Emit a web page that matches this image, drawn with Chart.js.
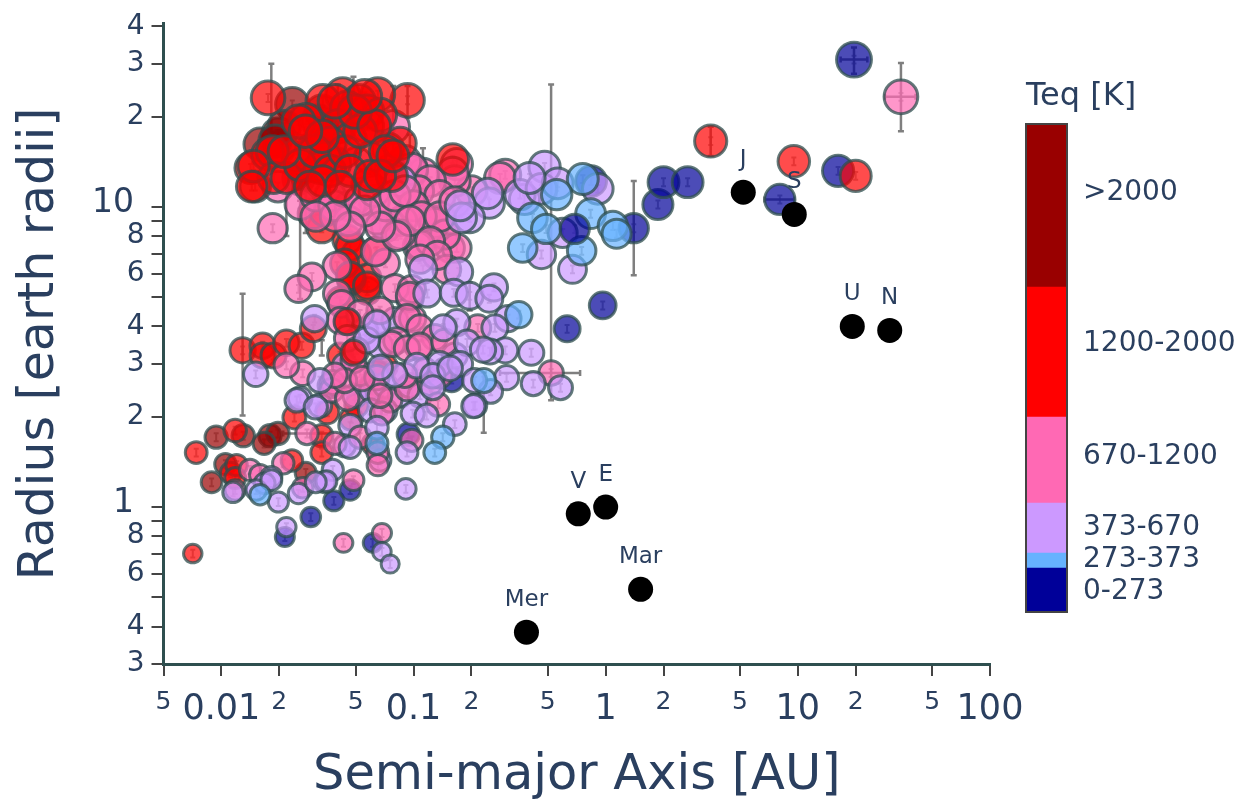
<!DOCTYPE html>
<html><head><meta charset="utf-8">
<style>html,body{margin:0;padding:0;background:#fff;overflow:hidden}canvas{position:absolute;top:0}</style>
<script src="https://cdn.jsdelivr.net/npm/chart.js@4"></script></head>
<body>
<canvas id="main" width="1241" height="799" style="left:0;width:1241px;height:799px"></canvas>
<canvas id="bar" width="241" height="799" style="left:1000px;width:241px;height:799px"></canvas>
<script>
const xTickValues=[0.005,0.01,0.02,0.05,0.1,0.2,0.5,1,2,5,10,20,50,100];
const xTickLabels=['5','0.01','2','5','0.1','2','5','1','2','5','10','2','5','100'];
const xLargeTicks=[0.01,0.1,1,10,100];
const yTickValues=[0.3,0.4,0.5,0.6,0.7,0.8,0.9,1,2,3,4,5,6,7,8,9,10,20,30,40];
const yTickLabels=['3','4','','6','','8','','1','2','3','4','','6','','8','','10','2','3','4'];
const yLargeTicks=[1,10];

const navyBack=[[19.6,31],[1.87,10.2],[2,12.1],[2.67,12.1],[1.4,8.5],[0.965,4.7],[0.63,3.93],[8.06,10.6],[16.2,13.2],[0.158,2.66],[0.094,1.75],[0.0385,1.05],[0.0468,1.14],[0.0292,0.927],[0.0214,0.795],[0.0613,0.76],[0.84,12.2]];
const navyFront=[[0.69,8.45]];
const darkPlanets=[[0.0234,22],[0.0197,17.5],[0.0159,16.2],[0.0202,15.9],[0.0252,12.5],[0.0333,20.8],[0.03,15.7],[0.0346,17.2],[0.0094,1.71],[0.013,1.73],[0.0179,1.73],[0.0197,1.76],[0.0167,1.63],[0.0105,1.39],[0.0089,1.21],[0.0275,1.3],[0.0252,12.4],[0.0212,18.5],[0.019,16.6],[0.0415,18.6],[0.0319,19.3]];
const redBack=[[0.0129,3.33],[0.0164,3.45],[0.0164,3.2],[0.0187,3.2],[0.0218,3.53],[0.0262,3.45],[0.0301,3.93],[0.0574,5.26],[0.0475,5.68],[0.0415,3.2],[0.0594,2.5],[0.0356,2.07],[0.024,1.99],[0.0474,1.97],[0.0505,2.18],[0.0333,1.73],[0.0333,1.52],[0.0074,1.52],[0.0118,1.8],[0.0112,1.3],[0.012,1.38],[0.0233,1.43],[0.0071,0.7],[0.0452,7.8],[0.0505,7],[0.0574,5.8],[0.0645,7.15],[0.0475,5.8],[0.0333,8.5],[0.03,9.5],[0.0118,1.25],[0.0616,1.62],[0.0452,4.15],[0.0345,9.7],[0.0468,7.4],[0.0438,6.5],[0.0415,4.88],[0.0468,5.9],[0.0574,5.47],[0.0645,2.8],[0.071,2.95]];
const redFront=[[0.0175,23.1],[0.0931,22.7],[3.52,16.6],[9.53,14.2],[20,12.7],[0.16,14.4],[0.0428,23.7],[0.0337,22.5],[0.0652,23.7],[0.0519,22.5],[0.0452,21.4],[0.0574,20.8],[0.0404,18.6],[0.0574,18.6],[0.067,20.3],[0.0468,16.8],[0.0738,15.6],[0.0852,16.3],[0.0594,14.6],[0.0391,14],[0.0368,16.3],[0.0249,15],[0.0276,19.5],[0.0252,19.3],[0.0142,13.5],[0.015,11.7],[0.0174,15],[0.0184,15.3],[0.0187,12.5],[0.0218,12.5],[0.0346,14.6],[0.0574,11.9],[0.0772,12.7],[0.0326,13.5],[0.0487,3.27],[0.0452,4.15],[0.0257,13.8],[0.0306,15.3],[0.0368,13.2],[0.0438,15.3],[0.0527,17.9],[0.0495,20.8],[0.0625,18.6],[0.0712,15.3],[0.0468,13.2],[0.0594,12.7],[0.0335,17.2],[0.0212,15.3],[0.0274,17.9],[0.067,12.7],[0.039,22.5],[0.0558,23.4],[0.0781,14.8],[0.0335,12.2],[0.0415,11.7],[0.0289,11.7],[0.0147,13.7],[0.0144,11.7]];
const pinkBack=[[0.3,12.8],[0.282,12.5],[0.2,11.3],[0.168,13.9],[0.164,12.2],[0.16,13],[0.112,12.9],[0.098,13.2],[0.0988,10.1],[0.09,11.3],[0.0903,14.2],[0.0756,13.2],[0.098,13.4],[0.0197,11.7],[0.122,12.2],[0.106,11.3],[0.137,10.9]];
const pinkPlanets=[[0.126,9],[0.142,8.1],[0.155,7.3],[0.168,7.3],[0.105,7.4],[0.149,6.2],[0.0957,4.97],[0.099,4.25],[0.216,3.96],[0.0185,8.5],[0.1,10.1],[0.129,8.85],[0.146,8.1],[0.108,7.5],[0.087,9],[0.0852,8.1],[0.0625,10.5],[0.0368,10.9],[0.0468,10.1],[0.0645,9.1],[0.0458,9],[0.0257,10.2],[0.0714,6.5],[0.04,6.36],[0.0296,5.85],[0.0252,5.34],[0.0634,7.1],[0.08,5.37],[0.098,5.33],[0.04,5.14],[0.0422,4.76],[0.067,4.52],[0.0957,5.06],[0.0925,4.28],[0.108,3.96],[0.0527,4.41],[0.0415,4.18],[0.0815,3.59],[0.077,3.5],[0.129,3.68],[0.106,3.4],[0.0265,2.79],[0.0218,2.97],[0.038,2.6],[0.0375,2.45],[0.0452,2.3],[0.0527,2.79],[0.0487,3.08],[0.0452,3.65],[0.0505,3.33],[0.0645,2.7],[0.0756,2.27],[0.0925,2.48],[0.122,2.58],[0.134,2.2],[0.0685,2.05],[0.0279,1.76],[0.0391,1.63],[0.0527,1.71],[0.0652,1.52],[0.0652,1.38],[0.098,1.67],[0.021,1.4],[0.0141,1.33],[0.0159,1.28],[0.0265,1.16],[0.0487,1.23],[0.0118,1.14],[0.0685,0.82],[0.0432,0.76],[0.52,2.8],[34.4,23.3],[0.0505,14],[0.0784,18.5],
[0.031,10.9],[0.0385,10.1],[0.0438,11.3],[0.0527,10.5],[0.0625,11.3],[0.0714,10.1],[0.08,10.9],[0.0903,11.3],[0.11,9.3],[0.0957,9],[0.0815,8],[0.067,8.6],[0.0558,9.7],[0.0468,8.6],[0.0391,9.3],[0.031,9.3],[0.137,9.3],[0.164,10.4],[0.122,7.7],[0.133,6.9],[0.108,6.7],
[0.0438,2.64],[0.054,2.68],[0.039,2.75],[0.067,2.35],[0.0925,3.38],[0.108,3.45],[0.115,2.85],[0.145,3.55],[0.09,2.75],[0.137,2.74]];
const lilacBack=[[0.072,8.6],[0.0852,12.2],[0.0368,2.54],[0.0438,2.96],[0.0495,2.35],[0.0605,2.45],[0.071,2.55],[0.0852,2.36],[0.0957,2.54],[0.108,2.36],[0.145,2.85],[0.164,3.2],[0.067,3.45],[0.0558,3.87],[0.0635,4.12],[0.08,4.18],[0.0468,1.87],[0.0594,2.1],[0.0714,2.1],[0.0326,2.18],[0.0257,2.3],[0.0438,1.6],[0.067,1.43]];
const lilacPlanets=[[0.481,13.6],[0.378,10.6],[0.358,11],[0.463,11.5],[0.563,12],[0.402,12.5],[0.248,10.3],[0.243,11.1],[0.196,9.2],[0.178,9.2],[0.175,10.1],[0.91,11.5],[0.597,8.2],[0.463,6.95],[0.672,6.2],[0.112,6.2],[0.172,6.08],[0.118,5.15],[0.162,5.18],[0.196,5.06],[0.262,5.4],[0.248,4.95],[0.31,4.25],[0.168,4.12],[0.265,3.96],[0.143,3.96],[0.41,3.27],[0.3,3.33],[0.582,2.5],[0.42,2.58],[0.305,2.7],[0.252,2.43],[0.209,2.18],[0.19,3.53],[0.137,3],[0.175,3],[0.208,2.64],[0.104,2.96],[0.08,2.76],[0.126,2.74],[0.126,2.5],[0.099,2.05],[0.117,2.02],[0.164,1.89],[0.0925,1.52],[0.205,2.17],[0.0306,4.25],[0.0151,2.77],[0.0247,2.27],[0.0326,2.64],[0.031,2.15],[0.057,3.6],[0.0645,4.08],[0.0645,1.84],[0.067,2.92],[0.0468,1.58],[0.038,1.33],[0.0345,1.21],[0.0182,1.26],[0.0168,1.2],[0.0152,1.14],[0.0252,1.11],[0.0115,1.12],[0.0198,1.04],[0.0182,1.23],[0.0352,1.22],[0.031,1.21],[0.0912,1.15],[0.0218,0.858],[0.0685,0.71],[0.0756,0.646],[0.155,2.9],[0.25,3.3],[0.23,3.35]];
const bluePlanets=[[0.76,12.4],[0.835,9.5],[1.09,8.65],[1.14,8.15],[0.416,9.2],[0.49,8.45],[0.37,7.3],[0.75,7.15],[0.556,11],[0.353,4.38],[0.142,1.71],[0.129,1.52],[0.232,2.64],[0.0159,1.1],[0.0645,1.63]];

const solarNames=['Mer','V','E','Mar','J','S','U','N'];
const solarA=[0.387,0.72,1,1.52,5.2,9.58,19.2,30.07];
const solarR=[0.383,0.95,1,0.532,11.2,9.45,4,3.88];

const verticalErrors=[[0.0182,13.2,30],[0.0218,8,14.2],[0.0275,8.2,13],[0.0257,4.94,10.5],[0.0487,18.6,27.2],[0.0404,18,25.6],[0.0784,14.8,25.3],[0.0957,12,17.4],[0.112,10.5,15.7],[0.52,2.27,25.6],[1.4,5.93,12.2],[0.196,4.52,5.6],[0.0129,2.02,5.14],[0.0333,3.2,3.6],[0.232,1.77,2.81],[34.4,17.9,30.2],[19.6,27.8,34],[3.52,14.8,18.5],[0.0931,19.8,25.3]];
const horizontalErrors=[[1.76,0.021,0.0368],[2.8,0.282,0.736],[23.3,28.4,41],[31,16.7,23],[10.6,6.7,9.6]];
const typicalRelErr=0.03;

const bandNames=['0-273','273-373','373-670','670-1200','1200-2000','>2000'];
const bandColors=['#000099','#66b2ff','#cc99ff','#ff69b4','#ff0000','#990000'];
const bandHeights=[0.0902,0.0307,0.1025,0.1762,0.2664,0.334];
const bandTicks=[0.041,0.107,0.172,0.318,0.549,0.859];

const FONT='"DejaVu Sans"', INK='#2a3f5f', SPINE='#2f4f4f', TICK='#444';
const fill={navy:'rgba(0,0,153,.7)',dark:'rgba(153,0,0,.7)',red:'rgba(255,0,0,.7)',pink:'rgba(255,105,180,.7)',lilac:'rgba(204,153,255,.7)',blue:'rgba(102,178,255,.7)'};
const pts=l=>l.map(p=>({x:p[0],y:p[1]}));
const bubble=(list,c)=>({data:pts(list),backgroundColor:c,borderColor:'rgba(47,79,79,.75)',borderWidth:3,clip:false,
  pointRadius:ctx=>10+5*Math.log10(ctx.raw.y)});
const backToFront=[bubble(navyBack,fill.navy),bubble(darkPlanets,fill.dark),bubble(pinkBack,fill.pink),bubble(redBack,fill.red),bubble(lilacBack,fill.lilac),bubble(pinkPlanets,fill.pink),bubble(lilacPlanets,fill.lilac),bubble(bluePlanets,fill.blue),bubble(redFront,fill.red),bubble(navyFront,fill.navy),
 {data:solarA.map((a,i)=>({x:a,y:solarR[i]})),backgroundColor:'#000',borderWidth:0,pointRadius:12.5,clip:false}];

const errorBars={id:'errorBars',beforeDatasetsDraw(c){
  const X=c.scales.x,Y=c.scales.y,g=c.ctx;g.save();
  const vbar=(px,lo,hi,cap)=>{g.beginPath();g.moveTo(px,lo);g.lineTo(px,hi);g.moveTo(px-cap,lo);g.lineTo(px+cap,lo);g.moveTo(px-cap,hi);g.lineTo(px+cap,hi);g.stroke();};
  g.strokeStyle='rgba(110,110,110,.55)';g.lineWidth=2;
  [navyBack,navyFront,darkPlanets,redBack,redFront,pinkBack,pinkPlanets,lilacBack,lilacPlanets,bluePlanets].forEach(l=>l.forEach(p=>{
    vbar(X.getPixelForValue(p[0]),Y.getPixelForValue(p[1]*(1-typicalRelErr)),Y.getPixelForValue(p[1]*(1+typicalRelErr)),2.5);}));
  g.strokeStyle='rgba(120,120,120,.95)';g.lineWidth=2.5;
  verticalErrors.forEach(e=>vbar(X.getPixelForValue(e[0]),Y.getPixelForValue(e[1]),Y.getPixelForValue(e[2]),3));
  horizontalErrors.forEach(e=>{const y=Y.getPixelForValue(e[0]),a=X.getPixelForValue(e[1]),b=X.getPixelForValue(e[2]);
    g.beginPath();g.moveTo(a,y);g.lineTo(b,y);g.moveTo(a,y-3);g.lineTo(a,y+3);g.moveTo(b,y-3);g.lineTo(b,y+3);g.stroke();});
  g.restore();
},afterDatasetsDraw(c){
  const X=c.scales.x,Y=c.scales.y,g=c.ctx;g.save();g.fillStyle=INK;g.font='23px '+FONT;g.textAlign='center';g.textBaseline='middle';
  solarNames.forEach((n,i)=>g.fillText(n,X.getPixelForValue(solarA[i]),Y.getPixelForValue(solarR[i])-32));
  g.restore();
}};

new Chart(document.getElementById('main'),{type:'scatter',data:{datasets:backToFront.reverse()},plugins:[errorBars],
 options:{responsive:false,animation:false,events:[],layout:{padding:{top:22,right:251,left:0,bottom:0}},
 plugins:{legend:{display:false},tooltip:{enabled:false}},
 scales:{
  x:{type:'logarithmic',min:0.005,max:100,afterBuildTicks:a=>{a.ticks=xTickValues.map(v=>({value:v}))},afterFit:s=>{s.height=135},
    grid:{drawOnChartArea:false,tickColor:TICK,tickLength:12,lineWidth:2},border:{color:SPINE,width:3},
    ticks:{autoSkip:false,maxRotation:0,padding:11,color:INK,callback:(v,i)=>xTickLabels[i],font:c=>{const big=xLargeTicks.includes(c.tick&&c.tick.value);return {family:FONT,size:big?35:25,lineHeight:big?1.3:1.2}}},
    title:{display:true,text:'Semi-major Axis [AU]',color:INK,font:{family:FONT,size:49.5,lineHeight:0.92},padding:{top:0,bottom:0}}},
  y:{type:'logarithmic',min:0.3,max:40.8,afterBuildTicks:a=>{a.ticks=yTickValues.map(v=>({value:v}))},afterFit:s=>{s.width=163.5},
    grid:{drawOnChartArea:false,tickColor:TICK,tickLength:12,lineWidth:2},border:{color:SPINE,width:3},
    ticks:{autoSkip:false,padding:7,color:INK,callback:(v,i)=>yLargeTicks.includes(yTickValues[i])?[yTickLabels[i]+'\u00A0','']:yTickLabels[i],font:c=>{const big=yLargeTicks.includes(c.tick&&c.tick.value);return {family:FONT,size:big?33:28,lineHeight:big?0.24:1.2}}},
    title:{display:true,text:'Radius [earth radii]',color:INK,font:{family:FONT,size:49,lineHeight:1},padding:{top:16,bottom:0}}}
 }}});

const frame={id:'frame',afterDraw(c){const a=c.chartArea,g=c.ctx;g.save();g.strokeStyle=TICK;g.lineWidth=2;g.strokeRect(a.left,a.top,a.right-a.left,a.bottom-a.top);g.restore();}};
new Chart(document.getElementById('bar'),{type:'bar',plugins:[frame],
 data:{labels:['Teq'],datasets:bandNames.map((n,i)=>({label:n,data:[bandHeights[i]],backgroundColor:bandColors[i],barPercentage:1,categoryPercentage:1,borderWidth:0}))},
 options:{responsive:false,animation:false,events:[],layout:{padding:{left:26,top:70,right:0,bottom:187}},
 plugins:{legend:{display:false},tooltip:{enabled:false},title:{display:true,text:'Teq [K]',align:'start',color:INK,font:{family:FONT,size:32,weight:'normal',lineHeight:1.2},padding:{top:7,bottom:8.6}}},
 scales:{x:{stacked:true,display:false},
  y:{stacked:true,position:'right',min:0,max:1,afterBuildTicks:a=>{a.ticks=bandTicks.map(v=>({value:v}))},afterFit:s=>{s.width=174},
    grid:{display:false,drawTicks:false},border:{display:false},
    ticks:{autoSkip:false,padding:16,color:INK,font:{family:FONT,size:28},callback:(v,i)=>bandNames[i]}}}}});
</script></body></html>
